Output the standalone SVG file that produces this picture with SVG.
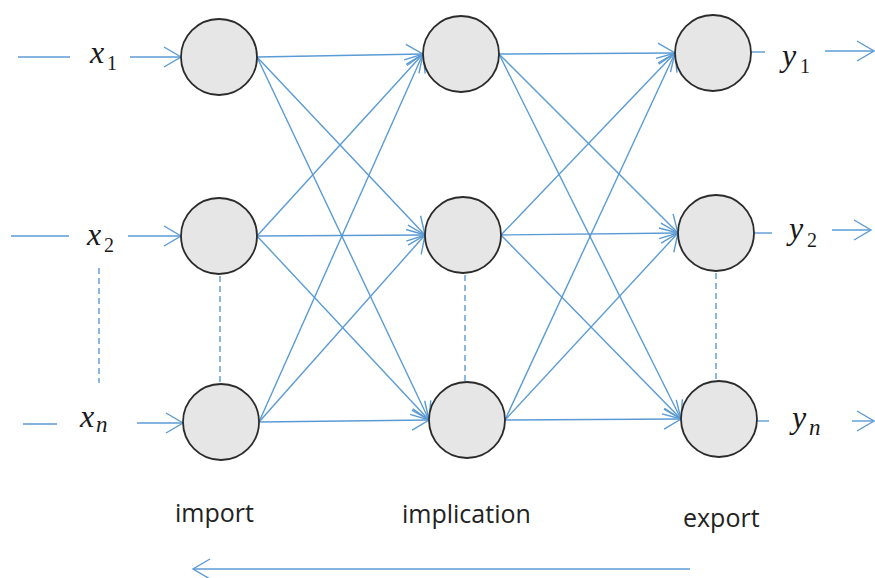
<svg xmlns="http://www.w3.org/2000/svg" width="875" height="578" viewBox="0 0 875 578">
<style>
.c{fill:#E6E6E6;stroke:#2b2b2b;stroke-width:1.8}
.l{stroke:#5B9BD5;stroke-width:1.4;fill:none}
.a{stroke:#5B9BD5;stroke-width:1.4;fill:none;marker-end:url(#ah)}
.d{stroke:#5B9BD5;stroke-width:1.4;fill:none;stroke-dasharray:6 4}
.m{font-family:"Liberation Serif",serif;font-style:italic;font-size:32px;fill:#1a1a1a}
.s{font-family:"Liberation Serif",serif;font-size:20px;fill:#1a1a1a}
.si{font-family:"Liberation Serif",serif;font-style:italic;font-size:23px;fill:#1a1a1a}
.t{font-family:"Open Sans",sans-serif;font-size:25px;fill:#222}
</style>
<defs>
<marker id="ah" markerUnits="userSpaceOnUse" markerWidth="24" markerHeight="24" viewBox="-20 -12 24 24" refX="0" refY="0" orient="auto">
<path d="M-17,-10 L0,0 L-17,10" fill="none" stroke="#5B9BD5" stroke-width="1.4"/>
</marker>
</defs>
<g id="connectors">
<line class="l" x1="18" y1="57" x2="70" y2="57"/>
<line class="a" x1="130" y1="57" x2="181" y2="57"/>
<line class="l" x1="11" y1="236" x2="69" y2="236"/>
<line class="a" x1="128" y1="236" x2="181" y2="236"/>
<line class="l" x1="23" y1="424" x2="57" y2="424"/>
<line class="a" x1="137" y1="423" x2="183" y2="423"/>
<line class="d" x1="99" y1="268" x2="99" y2="383"/>
<line class="d" x1="220" y1="276" x2="220" y2="384"/>
<line class="d" x1="465" y1="275" x2="465" y2="382"/>
<line class="d" x1="716" y1="273" x2="716" y2="381"/>
<line class="a" x1="257" y1="57" x2="423" y2="54"/>
<line class="a" x1="257" y1="57" x2="425" y2="235"/>
<line class="a" x1="257" y1="57" x2="429" y2="420"/>
<line class="a" x1="257" y1="236" x2="423" y2="54"/>
<line class="a" x1="257" y1="236" x2="425" y2="235"/>
<line class="a" x1="257" y1="236" x2="429" y2="420"/>
<line class="a" x1="259" y1="422" x2="423" y2="54"/>
<line class="a" x1="259" y1="422" x2="425" y2="235"/>
<line class="a" x1="259" y1="422" x2="429" y2="420"/>
<line class="a" x1="499" y1="54" x2="675" y2="53"/>
<line class="a" x1="499" y1="54" x2="678" y2="233"/>
<line class="a" x1="499" y1="54" x2="681" y2="419"/>
<line class="a" x1="501" y1="235" x2="675" y2="53"/>
<line class="a" x1="501" y1="235" x2="678" y2="233"/>
<line class="a" x1="501" y1="235" x2="681" y2="419"/>
<line class="a" x1="505" y1="420" x2="675" y2="53"/>
<line class="a" x1="505" y1="420" x2="678" y2="233"/>
<line class="a" x1="505" y1="420" x2="681" y2="419"/>
<line class="l" x1="751" y1="52" x2="765" y2="52"/>
<line class="a" x1="825" y1="51" x2="874" y2="51"/>
<line class="l" x1="754" y1="233" x2="772" y2="233"/>
<line class="a" x1="832" y1="230" x2="871" y2="230"/>
<line class="l" x1="757" y1="421" x2="769" y2="421"/>
<line class="a" x1="852" y1="421" x2="874" y2="421"/>
<line class="a" x1="690" y1="569" x2="193" y2="569"/>
</g>
<g id="in1"><circle class="c" cx="219" cy="57" r="38"/></g>
<g id="in2"><circle class="c" cx="219" cy="236" r="38"/></g>
<g id="in3"><circle class="c" cx="221" cy="422" r="38"/></g>
<g id="mid1"><circle class="c" cx="461" cy="54" r="38"/></g>
<g id="mid2"><circle class="c" cx="463" cy="235" r="38"/></g>
<g id="mid3"><circle class="c" cx="467" cy="420" r="38"/></g>
<g id="out1"><circle class="c" cx="713" cy="53" r="38"/></g>
<g id="out2"><circle class="c" cx="716" cy="233" r="38"/></g>
<g id="out3"><circle class="c" cx="719" cy="419" r="38"/></g>
<g id="labels">
<text class="m" x="90" y="63">x</text><text class="s" x="107" y="70">1</text>
<text class="m" x="87" y="245">x</text><text class="s" x="104" y="252">2</text>
<text class="m" x="80" y="427">x</text><text class="si" x="96" y="432">n</text>
<text class="m" x="782" y="66">y</text><text class="s" x="800" y="73">1</text>
<text class="m" x="789" y="239">y</text><text class="s" x="807" y="247">2</text>
<text class="m" x="792" y="428">y</text><text class="si" x="809" y="435">n</text>
<text class="t" x="175" y="522">import</text>
<text class="t" x="402" y="523">implication</text>
<text class="t" x="683" y="527">export</text>
</g>
</svg>
